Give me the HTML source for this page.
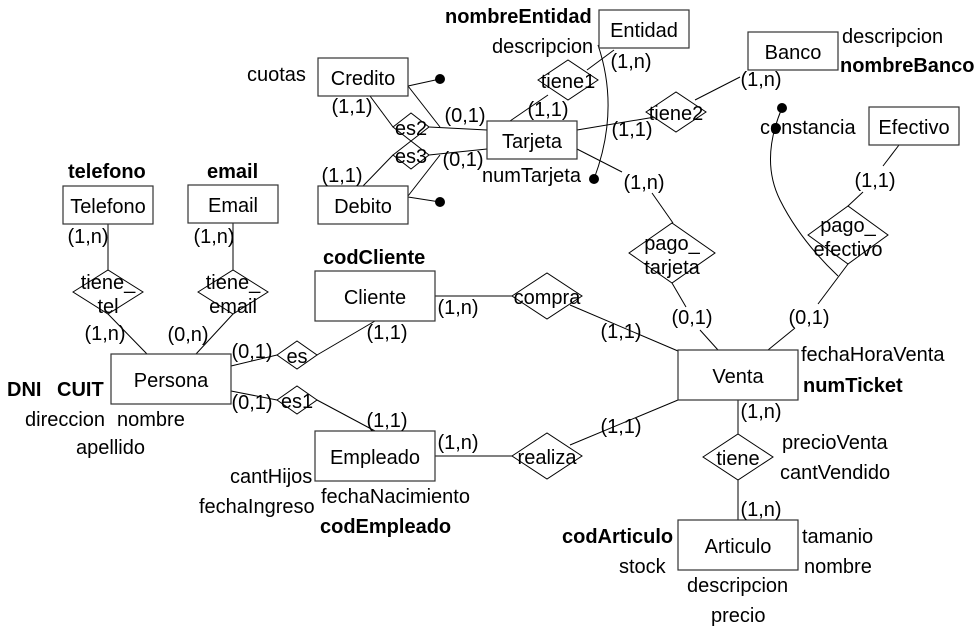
<!DOCTYPE html>
<html><head><meta charset="utf-8"><style>
html,body{margin:0;padding:0;background:#fff;}
svg{display:block;}
text{font-family:"Liberation Sans",sans-serif;font-size:20px;fill:#000;}
.b{font-weight:bold;}
.e{fill:#fff;stroke:#333;stroke-width:1.2;}
.d{fill:#fff;stroke:#000;stroke-width:1;}
.l{stroke:#000;stroke-width:1;fill:none;}
</style></head><body>
<svg width="979" height="630" viewBox="0 0 979 630" xmlns="http://www.w3.org/2000/svg">
<g class="l">
<line x1="108" y1="224" x2="108" y2="270"/>
<line x1="108" y1="314" x2="147" y2="354"/>
<line x1="233" y1="223" x2="233" y2="270"/>
<line x1="233" y1="314" x2="196" y2="354"/>
<line x1="231" y1="366" x2="277" y2="355"/>
<line x1="317" y1="355" x2="375" y2="321"/>
<line x1="231" y1="391" x2="277" y2="400"/>
<line x1="317" y1="400" x2="375" y2="431"/>
<line x1="435" y1="296" x2="512" y2="296"/>
<line x1="570" y1="305" x2="678" y2="351"/>
<line x1="435" y1="456" x2="512" y2="456"/>
<line x1="570" y1="445" x2="678" y2="400"/>
<line x1="738" y1="399" x2="738" y2="434"/>
<line x1="738" y1="480" x2="738" y2="520"/>
<line x1="408" y1="86" x2="440" y2="79"/>
<line x1="408" y1="197" x2="440" y2="202"/>
<line x1="370" y1="96" x2="393" y2="127"/>
<line x1="429" y1="127" x2="487" y2="130"/>
<line x1="408" y1="86" x2="440" y2="127"/>
<line x1="363" y1="186" x2="393" y2="155"/>
<line x1="429" y1="155" x2="487" y2="149"/>
<line x1="408" y1="196" x2="440" y2="155"/>
<line x1="510" y1="121" x2="548" y2="95"/>
<line x1="587" y1="70" x2="614" y2="50"/>
<line x1="577" y1="130" x2="655" y2="117"/>
<line x1="695" y1="100" x2="740" y2="77"/>
<line x1="577" y1="149" x2="622" y2="172"/>
<line x1="652" y1="193" x2="673" y2="223"/>
<line x1="672" y1="283" x2="686" y2="307"/>
<line x1="700" y1="330" x2="718" y2="350"/>
<line x1="899" y1="145" x2="883" y2="166"/>
<line x1="863" y1="192" x2="848" y2="206"/>
<line x1="848" y1="264" x2="818" y2="304"/>
<line x1="795" y1="328" x2="768" y2="350"/>
<path d="M598 45 Q620 110 594 179"/>
<path d="M782 108 Q760 160 780 200 Q800 240 838 276"/>
</g>
<circle cx="440" cy="79" r="5"/>
<circle cx="440" cy="202" r="5"/>
<circle cx="594" cy="179" r="5"/>
<circle cx="782" cy="108" r="5"/>
<circle cx="776" cy="128" r="5"/>
<rect class="e" x="599" y="10" width="90" height="38"/>
<rect class="e" x="748" y="32" width="90" height="38"/>
<rect class="e" x="318" y="58" width="90" height="38"/>
<rect class="e" x="487" y="121" width="90" height="38"/>
<rect class="e" x="869" y="107" width="90" height="38"/>
<rect class="e" x="63" y="186" width="90" height="38"/>
<rect class="e" x="188" y="185" width="90" height="38"/>
<rect class="e" x="318" y="186" width="90" height="38"/>
<rect class="e" x="315" y="271" width="120" height="50"/>
<rect class="e" x="111" y="354" width="120" height="50"/>
<rect class="e" x="678" y="350" width="120" height="50"/>
<rect class="e" x="315" y="431" width="120" height="50"/>
<rect class="e" x="678" y="520" width="120" height="50"/>
<polygon class="d" points="538,80 568,60 598,80 568,100"/>
<polygon class="d" points="646,112 676,92 706,112 676,132"/>
<polygon class="d" points="393,127 411,113 429,127 411,141"/>
<polygon class="d" points="393,155 411,141 429,155 411,169"/>
<polygon class="d" points="73,292 108,270 143,292 108,314"/>
<polygon class="d" points="198,292 233,270 268,292 233,314"/>
<polygon class="d" points="629,253 672,223 715,253 672,283"/>
<polygon class="d" points="808,235 848,206 888,235 848,264"/>
<polygon class="d" points="512,296 547,273 582,296 547,319"/>
<polygon class="d" points="277,355 297,341 317,355 297,369"/>
<polygon class="d" points="277,400 297,386 317,400 297,414"/>
<polygon class="d" points="512,456 547,433 582,456 547,479"/>
<polygon class="d" points="703,457 738,434 773,457 738,480"/>
<g text-anchor="middle">
<text x="644" y="37">Entidad</text>
<text x="793" y="59">Banco</text>
<text x="363" y="85">Credito</text>
<text x="532" y="148">Tarjeta</text>
<text x="914" y="134">Efectivo</text>
<text x="108" y="213">Telefono</text>
<text x="233" y="212">Email</text>
<text x="363" y="213">Debito</text>
<text x="375" y="304">Cliente</text>
<text x="171" y="387">Persona</text>
<text x="738" y="383">Venta</text>
<text x="375" y="464">Empleado</text>
<text x="738" y="553">Articulo</text>
<text x="568" y="88">tiene1</text>
<text x="676" y="120">tiene2</text>
<text x="411" y="135">es2</text>
<text x="411" y="163">es3</text>
<text x="108" y="289">tiene_</text>
<text x="108" y="313">tel</text>
<text x="233" y="289">tiene_</text>
<text x="233" y="313">email</text>
<text x="672" y="250">pago_</text>
<text x="672" y="274">tarjeta</text>
<text x="848" y="232">pago_</text>
<text x="848" y="256">efectivo</text>
<text x="547" y="304">compra</text>
<text x="297" y="363">es</text>
<text x="297" y="408">es1</text>
<text x="547" y="464">realiza</text>
<text x="738" y="465">tiene</text>
<text x="631" y="68">(1,n)</text>
<text x="761" y="86">(1,n)</text>
<text x="352" y="113">(1,1)</text>
<text x="465" y="122">(0,1)</text>
<text x="548" y="116">(1,1)</text>
<text x="632" y="136">(1,1)</text>
<text x="463" y="166">(0,1)</text>
<text x="342" y="182">(1,1)</text>
<text x="644" y="189">(1,n)</text>
<text x="875" y="187">(1,1)</text>
<text x="88" y="243">(1,n)</text>
<text x="214" y="243">(1,n)</text>
<text x="458" y="314">(1,n)</text>
<text x="387" y="339">(1,1)</text>
<text x="105" y="340">(1,n)</text>
<text x="188" y="341">(0,n)</text>
<text x="252" y="358">(0,1)</text>
<text x="621" y="338">(1,1)</text>
<text x="692" y="324">(0,1)</text>
<text x="809" y="324">(0,1)</text>
<text x="252" y="409">(0,1)</text>
<text x="387" y="427">(1,1)</text>
<text x="761" y="418">(1,n)</text>
<text x="621" y="433">(1,1)</text>
<text x="458" y="449">(1,n)</text>
<text x="761" y="516">(1,n)</text>
</g>
<text class="b" x="445" y="23">nombreEntidad</text>
<text x="492" y="53">descripcion</text>
<text x="842" y="43">descripcion</text>
<text class="b" x="840" y="72">nombreBanco</text>
<text x="247" y="81">cuotas</text>
<text x="760" y="134">constancia</text>
<text x="482" y="182">numTarjeta</text>
<text class="b" x="68" y="178">telefono</text>
<text class="b" x="207" y="178">email</text>
<text class="b" x="323" y="264">codCliente</text>
<text class="b" x="7" y="396">DNI</text>
<text class="b" x="57" y="396">CUIT</text>
<text x="25" y="426">direccion</text>
<text x="117" y="426">nombre</text>
<text x="76" y="454">apellido</text>
<text x="801" y="361">fechaHoraVenta</text>
<text class="b" x="803" y="392">numTicket</text>
<text x="782" y="449">precioVenta</text>
<text x="780" y="479">cantVendido</text>
<text x="230" y="483">cantHijos</text>
<text x="199" y="513">fechaIngreso</text>
<text x="321" y="503">fechaNacimiento</text>
<text class="b" x="320" y="533">codEmpleado</text>
<text class="b" x="562" y="543">codArticulo</text>
<text x="619" y="573">stock</text>
<text x="802" y="543">tamanio</text>
<text x="804" y="573">nombre</text>
<text x="687" y="592">descripcion</text>
<text x="711" y="622">precio</text>
</svg>
</body></html>
